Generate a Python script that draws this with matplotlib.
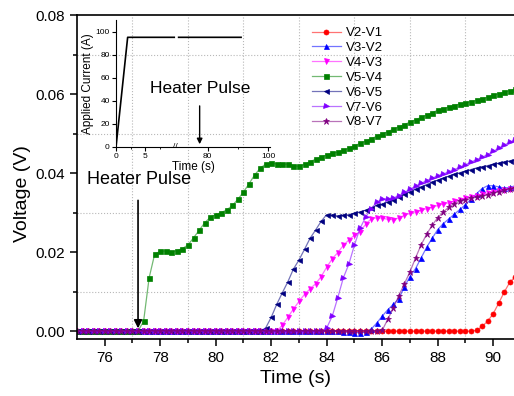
import numpy as np
import matplotlib
matplotlib.use('Agg')
import matplotlib.pyplot as plt
from matplotlib.colors import to_rgba

plt.rcParams['font.family'] = ['Liberation Sans', 'DejaVu Sans']

# sampling times (s), one reading every 0.2 s
time_s = np.round(np.arange(75.0, 90.81, 0.2), 1)

v2_v1 = [0, 0, 0, 0, 0, 0, 0, 0, 0, 0,
         0, 0, 0, 0, 0, 0, 0, 0, 0, 0,
         0, 0, 0, 0, 0, 0, 0, 0, 0, 0,
         0, 0, 0, 0, 0, 0, 0, 0, 0, 0,
         0, 0, 0, 0, 0, 0, 0, 0, 0, 0,
         0, 0, 0, 0, 0, 0, 0, 0, 0, 0,
         0, 0, 0, 0, 0, 0, 0, 0, 0, 0,
         0, 0,
         0.0002, 0.0012, 0.0025, 0.0044, 0.0071, 0.0099, 0.0124, 0.0138]

v3_v2 = [0, 0, 0, 0, 0, 0, 0, 0, 0, 0,
         0, 0, 0, 0, 0, 0, 0, 0, 0, 0,
         0, 0, 0, 0, 0, 0, 0, 0, 0, 0,
         0, 0, 0, 0, 0, 0, 0, 0, 0, 0,
         0, 0, 0, 0, 0, 0, 0, 0,
         -0.0002, -0.0003, -0.0004, -0.0004, -0.0003,
         0.0005, 0.0020, 0.0038, 0.0054, 0.0068, 0.0082, 0.0112, 0.0138,
         0.0158, 0.0185, 0.0212, 0.0235, 0.0257, 0.0272, 0.0284, 0.0296,
         0.0308, 0.0320, 0.0334, 0.0348, 0.0361, 0.0368, 0.0368, 0.0365,
         0.0362, 0.0364, 0.0368]

v4_v3 = [0, 0, 0, 0, 0, 0, 0, 0, 0, 0,
         0, 0, 0, 0, 0, 0, 0, 0, 0, 0,
         0, 0, 0, 0, 0, 0, 0, 0, 0, 0,
         0, 0, 0, 0, 0, 0, 0,
         0.0015, 0.0035, 0.0056, 0.0075, 0.0093, 0.0107, 0.0120, 0.0138,
         0.0162, 0.0183, 0.0199, 0.0217, 0.0231, 0.0243, 0.0252, 0.0270,
         0.0284, 0.0287, 0.0286, 0.0283, 0.0282, 0.0287, 0.0293, 0.0298,
         0.0302, 0.0306, 0.0310, 0.0314, 0.0318, 0.0322, 0.0325, 0.0329,
         0.0332, 0.0336, 0.0340, 0.0343, 0.0346, 0.0349, 0.0352, 0.0355,
         0.0357, 0.0359, 0.0361]

v5_v4 = [0, 0, 0, 0, 0, 0, 0, 0, 0, 0,
         0, 0,
         0.0025, 0.0135, 0.0195, 0.0202, 0.0203, 0.0200, 0.0204, 0.0209,
         0.0218, 0.0236, 0.0255, 0.0274, 0.0288, 0.0295, 0.0300, 0.0307,
         0.0318, 0.0334, 0.0352, 0.0373, 0.0395, 0.0412, 0.0423, 0.0425,
         0.0423, 0.0422, 0.0423, 0.0419, 0.0417, 0.0422, 0.0429, 0.0435,
         0.0441, 0.0446, 0.0450, 0.0453, 0.0458, 0.0463, 0.0469, 0.0475,
         0.0481, 0.0487, 0.0493, 0.0499, 0.0505, 0.0511, 0.0517, 0.0523,
         0.0529, 0.0535, 0.0541, 0.0547, 0.0553, 0.0559, 0.0563, 0.0567,
         0.0571, 0.0575, 0.0578, 0.0581, 0.0584, 0.0588, 0.0592, 0.0597,
         0.0601, 0.0605, 0.0609, 0.0612]

v6_v5 = [0, 0, 0, 0, 0, 0, 0, 0, 0, 0,
         0, 0, 0, 0, 0, 0, 0, 0, 0, 0,
         0, 0, 0, 0, 0, 0, 0, 0, 0, 0,
         0, 0, 0, 0,
         0.0008, 0.0035, 0.0068, 0.0097, 0.0125, 0.0157, 0.0180, 0.0207,
         0.0235, 0.0256, 0.0278, 0.0295, 0.0294, 0.0292, 0.0293, 0.0295,
         0.0298, 0.0302, 0.0306, 0.0312, 0.0318, 0.0321, 0.0327, 0.0333,
         0.0339, 0.0346, 0.0353, 0.0359, 0.0365, 0.0371, 0.0377, 0.0382,
         0.0387, 0.0392, 0.0397, 0.0401, 0.0405, 0.0409, 0.0413, 0.0416,
         0.0419, 0.0422, 0.0425, 0.0428, 0.0431, 0.0434]

v7_v6 = [0, 0, 0, 0, 0, 0, 0, 0, 0, 0,
         0, 0, 0, 0, 0, 0, 0, 0, 0, 0,
         0, 0, 0, 0, 0, 0, 0, 0, 0, 0,
         0, 0, 0, 0, 0, 0, 0, 0, 0, 0,
         0, 0, 0, 0, 0,
         0.0008, 0.0038, 0.0085, 0.0135, 0.0170, 0.0218, 0.0260, 0.0288,
         0.0310, 0.0326, 0.0334, 0.0335, 0.0337, 0.0343, 0.0351, 0.0359,
         0.0367, 0.0374, 0.0381, 0.0387, 0.0393, 0.0398, 0.0403, 0.0409,
         0.0415, 0.0421, 0.0428, 0.0434, 0.0440, 0.0447, 0.0455, 0.0463,
         0.0471, 0.0478, 0.0485]

v8_v7 = [0, 0, 0, 0, 0, 0, 0, 0, 0, 0,
         0, 0, 0, 0, 0, 0, 0, 0, 0, 0,
         0, 0, 0, 0, 0, 0, 0, 0, 0, 0,
         0, 0, 0, 0, 0, 0, 0, 0, 0, 0,
         0, 0, 0, 0, 0, 0, 0, 0, 0, 0,
         0, 0, 0, 0, 0,
         0.0002, 0.0030, 0.0058, 0.0090, 0.0120, 0.0150, 0.0185, 0.0218,
         0.0245, 0.0268, 0.0287, 0.0301, 0.0314, 0.0323, 0.0329, 0.0333,
         0.0336, 0.0339, 0.0342, 0.0345, 0.0349, 0.0353, 0.0357, 0.0360,
         0.0363]

series = [v2_v1, v3_v2, v4_v3, v5_v4, v6_v5, v7_v6, v8_v7]
labels = ['V2-V1', 'V3-V2', 'V4-V3', 'V5-V4', 'V6-V5', 'V7-V6', 'V8-V7']
colors = ['#ff0000', '#0000ff', '#ff00ff', '#008000', '#000080', '#8000ff', '#800080']
markers = ['o', '^', 'v', 's', '<', '>', '*']

# inset: applied current vs time (broken axis 10..70 s)
inset_time = [0, 2, 11, 40, 70.5, 91]
inset_current = [0, 95, 95, np.nan, 95, 95]

fig = plt.figure(figsize=(5.14, 3.96), dpi=100)
ax = fig.add_axes([0.1498, 0.1439, 0.8502, 0.818])

for y, lab, c, m in zip(series, labels, colors, markers):
    ax.plot(time_s, y, color=to_rgba(c, 0.55), lw=0.9, marker=m,
            ms=4.5 if m == '*' else 3.6, mfc=c, mec=c, mew=0.5, label=lab)

ax.set_xlim(75, 90.75)
ax.set_ylim(-0.002, 0.08)
ax.set_xticks(range(76, 91, 2))
ax.set_xticks(range(77, 91, 2), minor=True)
ax.set_yticks([0.0, 0.02, 0.04, 0.06, 0.08])
ax.set_yticklabels(['0.00', '0.02', '0.04', '0.06', '0.08'])
ax.set_yticks([0.01, 0.03, 0.05, 0.07], minor=True)
ax.grid(which='minor', ls=':', color='#b8b8b8', lw=0.8)
ax.tick_params(which='both', direction='out', labelsize=11, width=1.1)
ax.tick_params(which='major', length=5)
ax.tick_params(which='minor', length=3)
ax.spines['right'].set_visible(False)
for s in ['left', 'bottom', 'top']:
    ax.spines[s].set_linewidth(1.2)

ax.set_xlabel('Time (s)', fontsize=14)
ax.set_ylabel('Voltage (V)', fontsize=14)
ax.yaxis.set_label_coords(-0.105, 0.45)

ax.annotate('', xy=(77.2, 0.0), xytext=(77.2, 0.0338),
            arrowprops=dict(arrowstyle='-|>', color='k', lw=1.2, mutation_scale=12))
ax.text(77.22, 0.0383, 'Heater Pulse', ha='center', va='center', fontsize=13)

ax.legend(loc='upper left', bbox_to_anchor=(0.51, 1.0), frameon=False,
          fontsize=9.5, numpoints=1, handlelength=2.2, labelspacing=0.2,
          handletextpad=0.4)

# inset
def fwd(t):
    return np.interp(t, [-1000, 0, 10, 70, 100, 1000], [-1000, 0, 10, 10.5, 26.2, 496.4])

def inv(u):
    return np.interp(u, [-1000, 0, 10, 10.5, 26.2, 496.4], [-1000, 0, 10, 70, 100, 1000])

axin = fig.add_axes([0.2257, 0.6288, 0.2996, 0.3207])
axin.patch.set_alpha(0)
axin.set_xscale('function', functions=(fwd, inv))
axin.plot(inset_time, inset_current, color='k', lw=1.2)
axin.set_xlim(0, 100.5)
axin.set_ylim(0, 110)
axin.set_xticks([0, 5, 80, 100])
axin.set_xticks([2.5, 7.5, 90], minor=True)
axin.set_xticklabels(['0', '5', '80', '100'])
axin.set_yticks([0, 20, 40, 60, 80, 100])
axin.tick_params(which='both', direction='out', labelsize=6, pad=1.5)
axin.tick_params(which='major', length=3)
axin.tick_params(which='minor', length=1.5)
axin.spines['top'].set_visible(False)
axin.spines['right'].set_visible(False)
axin.set_xlabel('Time (s)', fontsize=8.5, labelpad=0.5)
axin.set_ylabel('Applied Current (A)', fontsize=8.5, labelpad=1)
axin.text(40, 0, '//', ha='center', va='center', fontsize=6)
axin.annotate('', xy=(77.4, 0), xytext=(77.4, 38),
              arrowprops=dict(arrowstyle='-|>', color='k', lw=1.0, mutation_scale=8))
axin.text(77.6, 51, 'Heater Pulse', ha='center', va='center', fontsize=12.5)

fig.savefig('out.png', dpi=100)
